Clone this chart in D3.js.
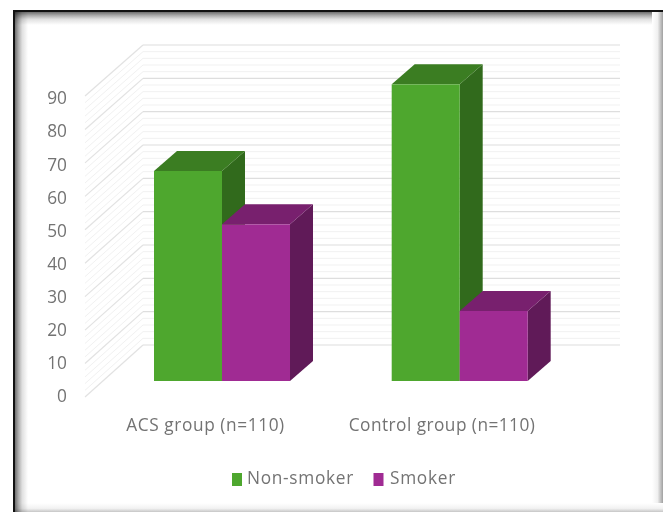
<!DOCTYPE html>
<html>
<head>
<meta charset="utf-8">
<script src="https://cdnjs.cloudflare.com/ajax/libs/d3/7.8.5/d3.min.js"></script>
<style>
html,body{margin:0;padding:0;background:#fff;overflow:hidden}
svg{display:block}
text{font-family:"Open Sans",sans-serif;fill:#737373}
</style>
</head>
<body>
<div id="chart"></div>
<script>
// Smoking status by study group
const categories = ["ACS group (n=110)", "Control group (n=110)"];
const seriesNames = ["Non-smoker", "Smoker"];
const nonSmoker = [63, 89];
const smoker = [47, 21];
const majorTicks = [0, 10, 20, 30, 40, 50, 60, 70, 80, 90];
const minorTicks = d3.range(0, 90.01, 2).filter(v => v % 10 !== 0);

const W = 663, H = 512;
const svg = d3.select("#chart").append("svg").attr("width", W).attr("height", H);
const defs = svg.append("defs");

function fade(id, x1, y1, x2, y2, stops) {
  const g = defs.append("linearGradient").attr("id", id)
    .attr("x1", x1).attr("y1", y1).attr("x2", x2).attr("y2", y2);
  stops.forEach(([o, c]) => g.append("stop").attr("offset", o).attr("stop-color", c));
}
const inner = [[0, "#6e6e6e"], [0.25, "#a8a8a8"], [0.55, "#e0e0e0"], [1, "#ffffff"]];
fade("shTop", 0, 0, 0, 1, inner);
fade("shLeft", 0, 0, 1, 0, inner);
fade("shRight", 0, 0, 1, 0, [[0, "#ffffff"], [0.5, "#f0f0f0"], [1, "#a0a0a0"]]);
fade("shBottom", 0, 0, 0, 1, [[0, "#ffffff"], [0.6, "#f2f2f2"], [1, "#c6c6c6"]]);

// Panel frame: dark rule on the top and left, soft shading on all sides
svg.append("rect").attr("x", 15).attr("y", 12).attr("width", 648).attr("height", 13).attr("fill", "url(#shTop)");
svg.append("rect").attr("x", 652).attr("y", 12).attr("width", 11).attr("height", 500).attr("fill", "url(#shRight)");
svg.append("rect").attr("x", 15).attr("y", 503).attr("width", 648).attr("height", 9).attr("fill", "url(#shBottom)");
svg.append("rect").attr("x", 15).attr("y", 12).attr("width", 13).attr("height", 500)
  .attr("fill", "url(#shLeft)").style("mix-blend-mode", "multiply");
svg.append("rect").attr("x", 13).attr("y", 12).attr("width", 2).attr("height", 500).attr("fill", "#111");
svg.append("rect").attr("x", 13).attr("y", 10).attr("width", 650).attr("height", 2).attr("fill", "#111");

// Wall geometry: front edge of the side wall, back wall, and the plane the bars stand on
const yFront = d3.scaleLinear().domain([0, 90]).range([397, 96]);
const yBack = d3.scaleLinear().domain([0, 90]).range([345, 45]);
const yBar = d3.scaleLinear().domain([0, 90]).range([381, 81]);
const yLabel = d3.scaleLinear().domain([0, 90]).range([397.5, 99.5]);
const wallLeft = 85, wallCorner = 143, wallRight = 620;

const walls = svg.append("g").attr("fill", "none");
function wallLines(values, sideColor, backColor, width) {
  const g = walls.append("g").attr("stroke-width", width);
  g.selectAll(".side").data(values).join("line").attr("class", "side")
    .attr("stroke", sideColor)
    .attr("x1", wallLeft).attr("x2", wallCorner)
    .attr("y1", d => yFront(d)).attr("y2", d => yBack(d));
  g.selectAll(".back").data(values).join("line").attr("class", "back")
    .attr("stroke", backColor)
    .attr("x1", wallCorner).attr("x2", wallRight)
    .attr("y1", d => yBack(d)).attr("y2", d => yBack(d));
}
wallLines(minorTicks, "#f1f1f1", "#f1f1f1", 1);
wallLines(majorTicks, "#e2e2e2", "#dedede", 1.2);

// Value labels
svg.append("g").selectAll("text").data(majorTicks).join("text")
  .attr("transform", d => `translate(67,${yLabel(d)}) scale(1.08,1.12)`)
  .attr("text-anchor", "end").attr("dominant-baseline", "middle")
  .attr("font-size", 16).text(d => d);

// Bars: front face, top and side as separate polygons
const groupStarts = [154, 391.7];
const barW = 68, depthX = 23, depthY = 20;
const palette = [
  { front: "#4ea72e", top: "#3b7d22", side: "#316a1c" },
  { front: "#a02b93", top: "#78206e", side: "#601a58" }
];
const bars = [];
categories.forEach((c, i) => {
  bars.push({ x: groupStarts[i], v: nonSmoker[i], col: palette[0] });
  bars.push({ x: groupStarts[i] + barW, v: smoker[i], col: palette[1] });
});
const gBars = svg.append("g");
const poly = pts => pts.map(p => p.join(",")).join(" ");
bars.forEach(b => {
  const top = yBar(b.v), base = yBar(0), l = b.x, r = b.x + barW;
  gBars.append("polygon").attr("fill", b.col.side)
    .attr("points", poly([[r, top], [r + depthX, top - depthY], [r + depthX, base - depthY], [r, base]]));
  gBars.append("polygon").attr("fill", b.col.top)
    .attr("points", poly([[l, top], [l + depthX, top - depthY], [r + depthX, top - depthY], [r, top]]));
  gBars.append("rect").attr("fill", b.col.front)
    .attr("x", l).attr("y", top).attr("width", barW).attr("height", base - top);
});

// Category labels
const catCentres = [205.5, 442];
svg.append("g").selectAll("text").data(categories).join("text")
  .attr("transform", (d, i) => `translate(${catCentres[i]},431) scale(1.08,1.12)`)
  .attr("text-anchor", "middle").attr("font-size", 16)
  .style("letter-spacing", (d, i) => i === 0 ? "0.55px" : "0.42px").text(d => d);

// Legend
const legendSwatchX = [232, 373.5], legendTextX = [247, 390];
const legend = svg.append("g");
legend.selectAll("rect").data(seriesNames).join("rect")
  .attr("x", (d, i) => legendSwatchX[i]).attr("y", 473).attr("width", 10).attr("height", 13)
  .attr("fill", (d, i) => palette[i].front);
legend.selectAll("text").data(seriesNames).join("text")
  .attr("transform", (d, i) => `translate(${legendTextX[i]},484) scale(1.08,1.12)`)
  .attr("font-size", 16).style("letter-spacing", "0.65px").text(d => d);
</script>
</body>
</html>
